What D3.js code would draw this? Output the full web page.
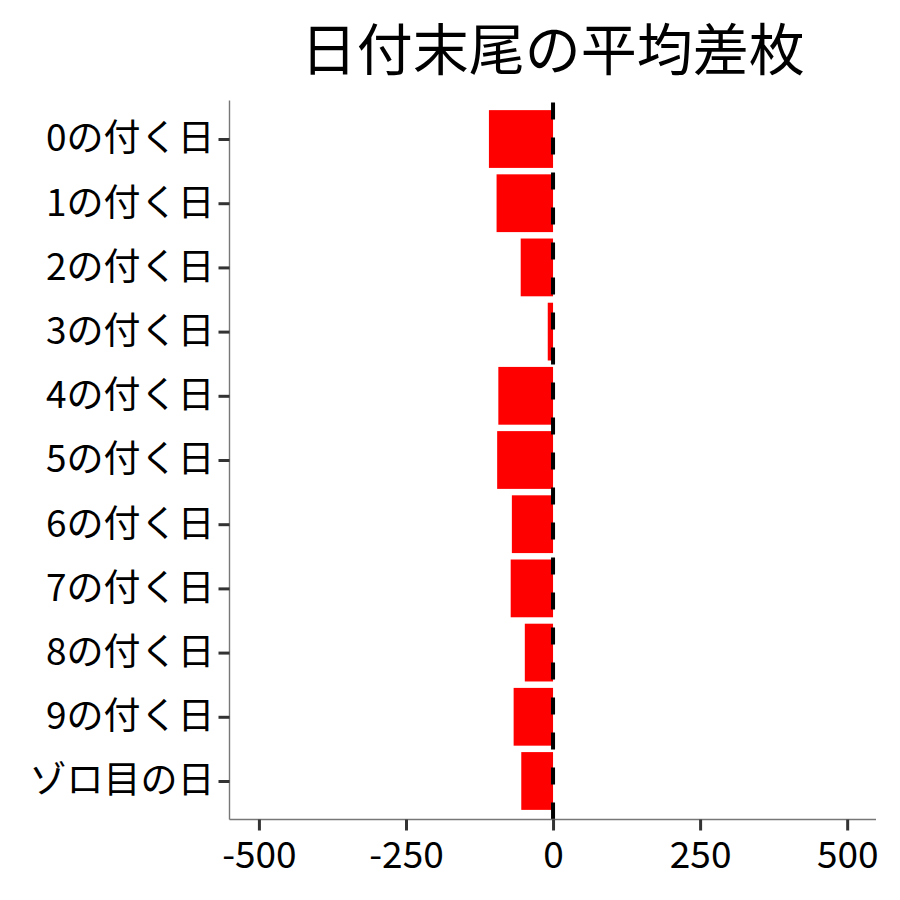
<!DOCTYPE html>
<html>
<head>
<meta charset="utf-8">
<script src="https://cdn.jsdelivr.net/npm/d3@7"></script>
<style>
  body { margin: 0; background: #fff; }
  text { font-family: "Noto Sans CJK JP", "Noto Sans", sans-serif; fill: #000; }
</style>
</head>
<body>
<div class="chart"></div>
<script>
var categories = ["0の付く日", "1の付く日", "2の付く日", "3の付く日", "4の付く日",
  "5の付く日", "6の付く日", "7の付く日", "8の付く日", "9の付く日", "ゾロ目の日"];
var avgDiff = [-109, -96, -55, -9, -93, -95, -70, -72, -48, -67, -54];
var xTicks = [-500, -250, 0, 250, 500];
var xDomain = [-550, 549];

var svgWidth = 900;
var svgHeight = 900;
var margin = { top: 100.5, right: 24, bottom: 80.5, left: 229.5 };
var width = svgWidth - margin.left - margin.right;
var height = svgHeight - margin.top - margin.bottom;

var svg = d3.select(".chart")
  .append("svg")
  .attr("width", svgWidth)
  .attr("height", svgHeight);

var chartGroup = svg.append("g")
  .attr("transform", `translate(${margin.left}, ${margin.top})`);

var xScale = d3.scaleLinear()
  .domain(xDomain)
  .range([0, width]);

// discrete scale with ggplot-like 0.6 expansion
var step = height / (categories.length - 1 + 1.2);
var yScale = d3.scalePoint()
  .domain(categories)
  .range([0.6 * step, height - 0.6 * step]);
var barH = step * 0.9;

// bars
chartGroup.selectAll("rect.bar")
  .data(avgDiff)
  .enter()
  .append("rect")
  .attr("class", "bar")
  .attr("x", d => xScale(Math.min(0, d)))
  .attr("width", d => Math.abs(xScale(d) - xScale(0)))
  .attr("y", (d, i) => yScale(categories[i]) - barH / 2)
  .attr("height", barH)
  .style("fill", "#FF0000");

// dashed zero line
chartGroup.append("line")
  .attr("x1", xScale(0))
  .attr("x2", xScale(0))
  .attr("y1", height)
  .attr("y2", 0)
  .attr("stroke", "#000")
  .attr("stroke-width", 4)
  .attr("stroke-dasharray", "17,18");

// axes (plain hyphen for negatives, like the original)
var bottomAxis = d3.axisBottom(xScale)
  .tickValues(xTicks)
  .tickFormat(d => String(d))
  .tickSize(11)
  .tickPadding(11)
  .tickSizeOuter(0);
var leftAxis = d3.axisLeft(yScale)
  .tickSize(11)
  .tickPadding(4)
  .tickSizeOuter(0);

var xAxisG = chartGroup.append("g")
  .attr("transform", `translate(0, ${height})`)
  .call(bottomAxis);

var yAxisG = chartGroup.append("g")
  .call(leftAxis);

[xAxisG, yAxisG].forEach(function(g) {
  g.select(".domain").attr("stroke", "#777").attr("stroke-width", 1.4);
  g.selectAll(".tick line").attr("stroke", "#333").attr("stroke-width", 3);
  g.selectAll(".tick text").attr("font-size", 37).attr("fill", "#000")
    .style("font-family", "'Noto Sans CJK JP', sans-serif");
});
xAxisG.select(".domain").attr("d", `M0,0H${width}`);
yAxisG.select(".domain").attr("d", `M0,0V${height}`);

// title
chartGroup.append("text")
  .attr("x", width / 2)
  .attr("y", -55)
  .attr("text-anchor", "middle")
  .attr("dominant-baseline", "central")
  .attr("font-size", 56)
  .text("日付末尾の平均差枚");
</script>
</body>
</html>
